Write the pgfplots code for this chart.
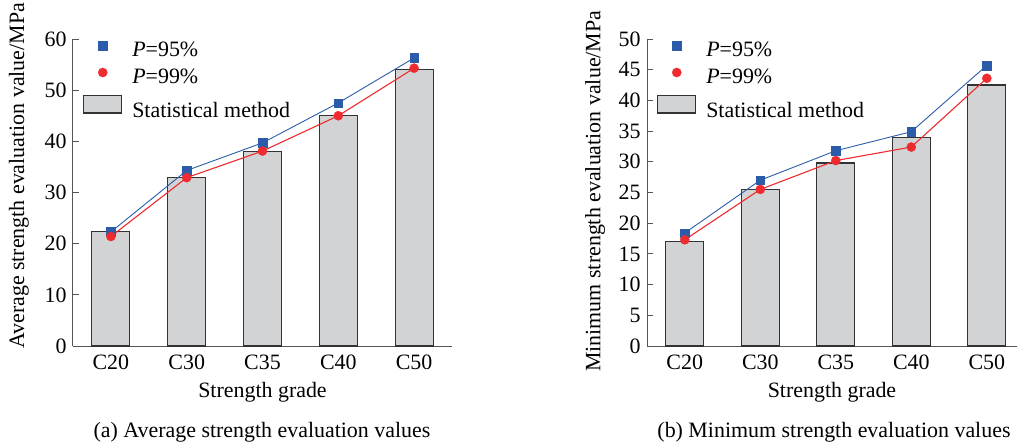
\documentclass[border=0pt]{standalone}
\usepackage{fontspec}
\setmainfont{Liberation Serif}
\usepackage{pgfplots}
\pgfplotsset{compat=1.18}
\definecolor{bargray}{HTML}{D1D3D4}
\definecolor{bardark}{HTML}{333333}
\definecolor{axisgray}{HTML}{555555}
\definecolor{pblue}{HTML}{2A5CAA}
\definecolor{pred}{HTML}{EE2B2E}
\pgfplotsset{
  mystyle/.style={
    scale only axis,
    height=307bp,
    axis x line*=bottom,
    axis y line*=left,
    axis line style={draw=axisgray, line width=1bp, -},
    xmin=-0.5,
    ymin=0,
    xtick={0,1,2,3,4},
    xticklabels={C20,C30,C35,C40,C50},
    x tick style={draw=none},
    y tick style={draw=axisgray, line width=0.8bp},
    tick align=inside,
    major tick length=6bp,
    font=\fontsize{22}{26}\selectfont,
    tick label style={font=\fontsize{22}{26}\selectfont},
    yticklabel style={xshift=-3bp},
    xticklabel style={yshift=-5bp},
    /pgf/number format/assume math mode=true,
    clip=false,
    legend cell align=left,
    legend style={
      at={(axis description cs:0,1)}, anchor=north west,
      xshift=10bp, yshift=-1.7bp,
      draw=none, fill=none, inner sep=0pt,
      column sep=10bp, row sep=6bp,
      nodes={inner sep=0pt, text height=16bp, text depth=5bp},
      font=\fontsize{22}{26}\selectfont,
    },
  },
  blueline/.style={color=pblue, line width=0.9bp, mark=square*, mark size=4.3bp,
    mark options={fill=pblue, draw=pblue, line width=0.3bp},
    legend image code/.code={\draw[##1,only marks] plot coordinates {(19bp,6bp)};}},
  redline/.style={color=pred, line width=1.1bp, mark=*, mark size=4.6bp,
    mark options={fill=pred, draw=pred, line width=0.3bp},
    legend image code/.code={\draw[##1,only marks] plot coordinates {(19bp,6bp)};}},
  barplot/.style={ybar, bar width=38bp, fill=bargray, draw=bardark, line width=1.1bp},
}
\begin{document}
\begin{tikzpicture}
\path[use as bounding box] (-73bp,-97bp) rectangle (944bp,346bp);
% (a)
\begin{axis}[mystyle,
  at={(0bp,0bp)}, anchor=south west,
  width=379bp, xmax=4.5,
  ymax=60, ytick={0,10,...,60},
  xlabel={Strength grade},
  xlabel style={at={(axis description cs:0.5,-0.15)}, anchor=center},
  ylabel={Average strength evaluation value/MPa},
  ylabel style={at={(axis description cs:-0.1425,0.554)}, anchor=center},
]
\addplot[barplot, forget plot] coordinates {(0,22.3) (1,33.0) (2,38.1) (3,45.0) (4,54.0)};
\addplot[blueline] coordinates {(0,22.3) (1,34.3) (2,39.7) (3,47.5) (4,56.3)};
\addlegendentry{\textit{P}=95\%}
\addplot[redline] coordinates {(0,21.4) (1,32.9) (2,38.1) (3,45.0) (4,54.3)};
\addlegendentry{\textit{P}=99\%}
\addlegendimage{legend image code/.code={\draw[fill=bargray,draw=bardark,line width=1.1bp] (0bp,-1.5bp) rectangle (38bp,16bp);}}
\addlegendentry{Statistical method}
\end{axis}
% (b)
\begin{axis}[mystyle,
  at={(574bp,0bp)}, anchor=south west,
  width=370bp, xmax=4.4,
  ymax=50, ytick={0,5,...,50},
  xlabel={Strength grade},
  xlabel style={at={(axis description cs:0.5,-0.15)}, anchor=center},
  ylabel={Minimum strength evaluation value/MPa},
  ylabel style={at={(axis description cs:-0.14,0.504)}, anchor=center},
]
\addplot[barplot, forget plot] coordinates {(0,17.0) (1,25.5) (2,29.8) (3,34.0) (4,42.5)};
\addplot[blueline] coordinates {(0,18.4) (1,27.0) (2,31.8) (3,34.9) (4,45.7)};
\addlegendentry{\textit{P}=95\%}
\addplot[redline] coordinates {(0,17.3) (1,25.5) (2,30.2) (3,32.4) (4,43.6)};
\addlegendentry{\textit{P}=99\%}
\addlegendimage{legend image code/.code={\draw[fill=bargray,draw=bardark,line width=1.1bp] (0bp,-1.5bp) rectangle (38bp,16bp);}}
\addlegendentry{Statistical method}
\end{axis}
\node[font=\fontsize{22}{26}\selectfont] at (189bp,-86bp) {(a) Average strength evaluation values};
\node[font=\fontsize{22}{26}\selectfont] at (761bp,-86bp) {(b) Minimum strength evaluation values};
\end{tikzpicture}
\end{document}
